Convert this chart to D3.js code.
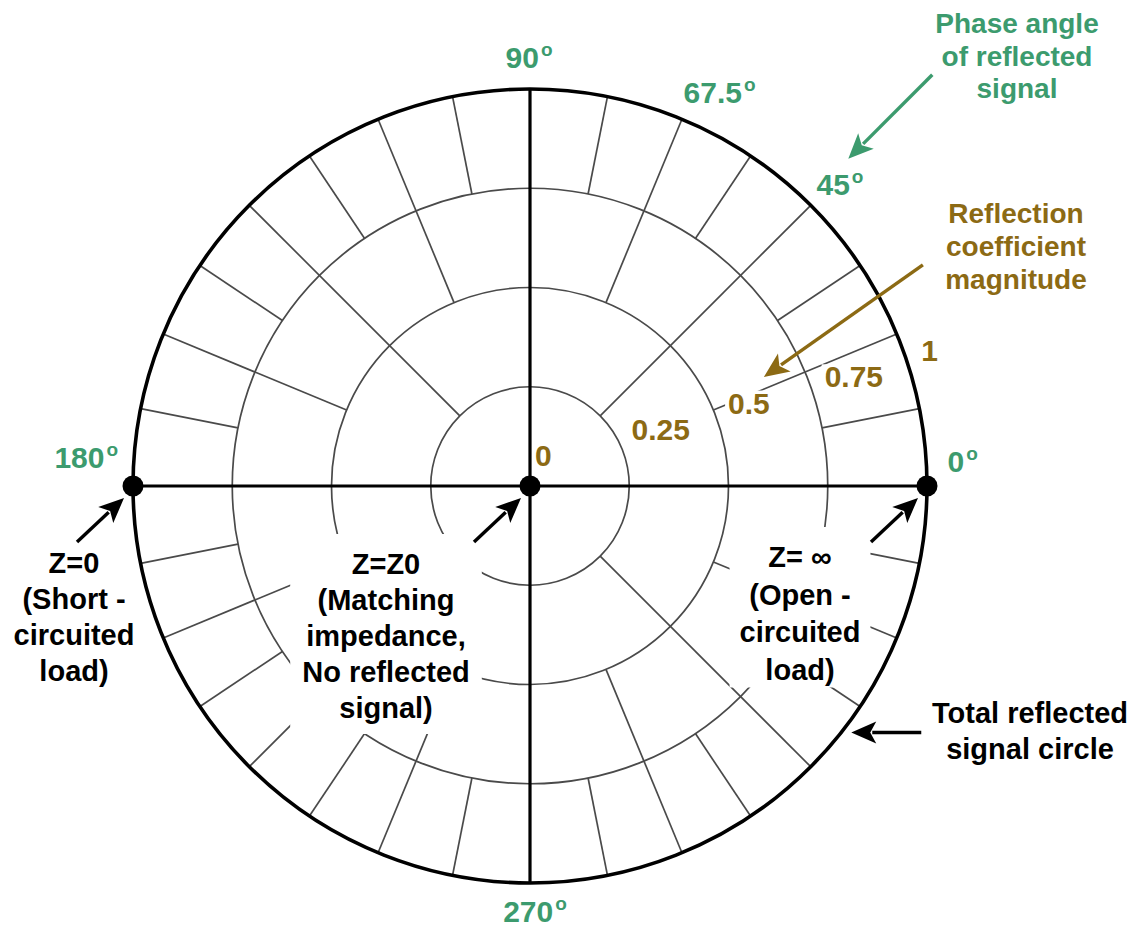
<!DOCTYPE html>
<html>
<head>
<meta charset="utf-8">
<script src="https://cdn.jsdelivr.net/npm/d3@7"></script>
<style>
  body { margin: 0; background: #fff; }
  text { font-family: "Liberation Sans", Arial, sans-serif; font-weight: bold; }
</style>
</head>
<body>
<svg id="drawing_region"></svg>
<script>
// reflection coefficient magnitude rings
const ringLevels = [0.25, 0.5, 0.75, 1];
// spokes: how many per full turn start at each ring
const spokeStarts = [0, 0.25, 0.5, 0.75];
const spokeCounts = [4, 8, 16, 32];
// tick labels
const magnitudeTicks = [0, 0.25, 0.5, 0.75, 1];
const magnitudeLabels = ["0", "0.25", "0.5", "0.75", "1"];
const phaseTicks = [0, 45, 67.5, 90, 180, 270];
const phaseLabels = ["0", "45", "67.5", "90", "180", "270"];
// special load points (phase, magnitude)
const loadPhases = [180, 0, 0];
const loadMags = [1, 0, 1];
// annotation texts
const phaseNote = ["Phase angle", "of reflected", "signal"];
const magnitudeNote = ["Reflection", "coefficient", "magnitude"];
const shortNote = ["Z=0", "(Short -", "circuited", "load)"];
const matchNote = ["Z=Z0", "(Matching", "impedance,", "No reflected", "signal)"];
const openNote = ["Z= \u221e", "(Open -", "circuited", "load)"];
const circleNote = ["Total reflected", "signal circle"];

const config = { width: 1136, height: 929, cx: 530, cy: 486, radius: 397 };
const green = "#3c9b6e", gold = "#8c6a14";

const svg = d3.select("#drawing_region")
    .attr("width", config.width)
    .attr("height", config.height);

const rscale = d3.scaleLinear().domain([0, 1]).range([0, config.radius]);
const ascale = d3.scaleLinear().domain([0, 360]).range([0, 2 * Math.PI]);

function polar(deg, mag) {
    const a = ascale(deg), r = rscale(mag);
    return [config.cx + r * Math.cos(a), config.cy - r * Math.sin(a)];
}

const gGrid = svg.append("g");
const gBoxes = svg.append("g");
const gFrame = svg.append("g");
const gText = svg.append("g");
const gMarks = svg.append("g");

// rings (inner ones thin gray)
gGrid.selectAll("circle")
    .data(ringLevels.slice(0, -1))
    .enter().append("circle")
    .attr("cx", config.cx).attr("cy", config.cy)
    .attr("r", d => rscale(d))
    .attr("fill", "none")
    .attr("stroke", "#4a4a4a")
    .attr("stroke-width", 1.7);

// spokes
const spokes = [];
spokeCounts.forEach((n, i) => {
    for (let k = 0; k < n; k++) {
        if (i > 0 && k % 2 == 0) continue; // already drawn by an inner level
        spokes.push({ angle: k * 360 / n, from: spokeStarts[i], level: i });
    }
});

gGrid.selectAll("line")
    .data(spokes.filter(d => d.level > 0))
    .enter().append("line")
    .attr("x1", d => polar(d.angle, d.from)[0])
    .attr("y1", d => polar(d.angle, d.from)[1])
    .attr("x2", d => polar(d.angle, 1)[0])
    .attr("y2", d => polar(d.angle, 1)[1])
    .attr("stroke", "#4a4a4a")
    .attr("stroke-width", 1.7);

// axes and outer circle
gFrame.selectAll("line")
    .data(spokes.filter(d => d.level == 0))
    .enter().append("line")
    .attr("x1", config.cx).attr("y1", config.cy)
    .attr("x2", d => polar(d.angle, 1)[0])
    .attr("y2", d => polar(d.angle, 1)[1])
    .attr("stroke", "#000")
    .attr("stroke-width", 3.2);

gFrame.append("circle")
    .attr("cx", config.cx).attr("cy", config.cy)
    .attr("r", rscale(ringLevels[ringLevels.length - 1]))
    .attr("fill", "none")
    .attr("stroke", "#000")
    .attr("stroke-width", 3.6);

// phase labels
const phaseNudge = { 0: [0, -25], 45: [4, 4], 67.5: [24, 6], 90: [-1, 4], 180: [-11, -29], 270: [5, -8] };
phaseTicks.forEach((t, i) => {
    const p = polar(t, 1.09);
    const n = phaseNudge[t];
    const txt = gText.append("text")
        .attr("x", p[0] + n[0])
        .attr("y", p[1] + 11 + n[1])
        .attr("text-anchor", "middle")
        .attr("fill", green)
        .attr("font-size", "30px");
    txt.append("tspan").text(phaseLabels[i]);
    txt.append("tspan").attr("dx", 2).attr("dy", -12).attr("font-size", "19px").text("o");
});

// magnitude labels along a shallow ray
magnitudeTicks.forEach((m, i) => {
    const p = polar(15.2, m * 1.008);
    const txt = gText.append("text")
        .attr("x", p[0] + 5)
        .attr("y", p[1] - 20)
        .attr("fill", gold)
        .attr("font-size", "30px")
        .text(magnitudeLabels[i]);
    const b = txt.node().getBBox();
    gBoxes.append("rect")
        .attr("x", b.x - 3).attr("y", b.y + 4)
        .attr("width", b.width + (m == 0.5 ? 14 : 6)).attr("height", b.height - 6)
        .attr("fill", "#fff");
});

// text blocks, positions relative to the centre
function note(lines, dx, dy, step, color, size, pad) {
    const g = gText.append("g");
    lines.forEach((s, i) => {
        g.append("text")
            .attr("x", config.cx + dx)
            .attr("y", config.cy + dy + i * step)
            .attr("text-anchor", "middle")
            .attr("fill", color)
            .attr("font-size", size)
            .text(s);
    });
    if (pad) {
        const b = g.node().getBBox();
        gBoxes.append("rect")
            .attr("x", b.x - pad[0]).attr("y", b.y - pad[1])
            .attr("width", b.width + 2 * pad[0]).attr("height", b.height + pad[1] + pad[2])
            .attr("fill", "#fff");
    }
}

note(phaseNote, 487, -453, 32.5, green, "28px");
note(magnitudeNote, 486, -263, 33, gold, "28px");
note(shortNote, -456, 87, 36, "#000", "29px");
note(matchNote, -144, 88, 36, "#000", "29px", [12, 14, 10]);
note(openNote, 270, 81, 37.5, "#000", "29px", [10, 14, 2]);
note(circleNote, 500, 237, 36, "#000", "29px");

// load points
gMarks.selectAll("circle")
    .data(loadPhases.map((p, i) => polar(p, loadMags[i])))
    .enter().append("circle")
    .attr("cx", d => d[0]).attr("cy", d => d[1])
    .attr("r", 10.5)
    .attr("fill", "#000");

// arrows
function arrow(tip, tail, color) {
    const dx = tip[0] - tail[0], dy = tip[1] - tail[1];
    const len = Math.hypot(dx, dy), ux = dx / len, uy = dy / len;
    const hl = 25, hw = 11;
    const bx = tip[0] - ux * hl, by = tip[1] - uy * hl;
    gMarks.append("line")
        .attr("x1", tail[0]).attr("y1", tail[1])
        .attr("x2", bx + ux * 4).attr("y2", by + uy * 4)
        .attr("stroke", color).attr("stroke-width", 3.4);
    gMarks.append("path")
        .attr("d", `M${tip[0]},${tip[1]}L${bx - uy * hw},${by + ux * hw}L${bx + ux * 6},${by + uy * 6}L${bx + uy * hw},${by - ux * hw}Z`)
        .attr("fill", color);
}

loadPhases.forEach((p, i) => {
    const d = polar(p, loadMags[i]);
    arrow([d[0] - 9, d[1] + 12], [d[0] - 56, d[1] + 56], "#000");
});

const tipPhase = polar(45.8, 1.15);
arrow(tipPhase, [tipPhase[0] + 84, tipPhase[1] - 84], green);
const tipMag = polar(25, 0.65);
arrow(tipMag, [tipMag[0] + 159, tipMag[1] - 112], gold);
const tipCircle = polar(-37.5, 1.02);
arrow(tipCircle, [tipCircle[0] + 70, tipCircle[1]], "#000");
</script>
</body>
</html>
